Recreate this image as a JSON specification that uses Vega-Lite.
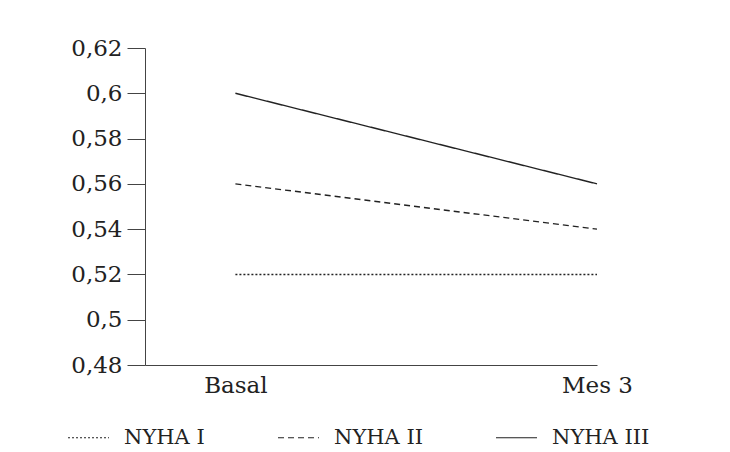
{
  "$schema": "https://vega.github.io/schema/vega-lite/v6.json",
  "width": 452,
  "height": 317,
  "autosize": {"type": "none"},
  "padding": {"left": 145, "top": 48, "right": 133, "bottom": 87},
  "background": "white",
  "config": {
    "view": {"stroke": null},
    "font": "DejaVu Serif",
    "axis": {"labelFont": "DejaVu Serif", "labelColor": "#222", "domainColor": "#444", "tickColor": "#444", "labelFontSize": 23}
  },
  "data": {
    "values": [
      {"serie": "NYHA I", "t": 1, "valor": 0.52},
      {"serie": "NYHA I", "t": 2, "valor": 0.52},
      {"serie": "NYHA II", "t": 1, "valor": 0.56},
      {"serie": "NYHA II", "t": 2, "valor": 0.54},
      {"serie": "NYHA III", "t": 1, "valor": 0.60},
      {"serie": "NYHA III", "t": 2, "valor": 0.56}
    ]
  },
  "mark": {"type": "line", "color": "#222", "strokeWidth": 1.4},
  "encoding": {
    "x": {
      "field": "t", "type": "quantitative",
      "scale": {"domain": [0.75, 2], "nice": false, "zero": false},
      "axis": {"title": null, "grid": false, "ticks": false, "values": [1, 2], "labelExpr": "datum.value == 1 ? 'Basal' : 'Mes 3'", "labelPadding": 9, "labelFlush": false, "labelOverlap": false}
    },
    "y": {
      "field": "valor", "type": "quantitative",
      "scale": {"domain": [0.48, 0.62], "nice": false, "zero": false},
      "axis": {"title": null, "grid": false, "tickSize": 18, "labelPadding": 5, "values": [0.48, 0.5, 0.52, 0.54, 0.56, 0.58, 0.6, 0.62], "labelExpr": "replace(format(datum.value, '.2~f'), '.', ',')", "labelFlush": false, "labelOverlap": false}
    },
    "strokeDash": {
      "field": "serie", "type": "nominal",
      "scale": {"domain": ["NYHA I", "NYHA II", "NYHA III"], "range": [[2, 2], [6, 4], [1, 0]]},
      "legend": {
        "title": null, "orient": "none", "direction": "horizontal", "columns": 3,
        "legendX": -78, "legendY": 368,
        "symbolType": "stroke", "symbolSize": 1681, "symbolStrokeColor": "#222", "symbolStrokeWidth": 1.2,
        "labelFont": "DejaVu Serif", "labelFontSize": 21, "labelColor": "#222", "labelOffset": 14,
        "columnPadding": 70
      }
    }
  }
}
